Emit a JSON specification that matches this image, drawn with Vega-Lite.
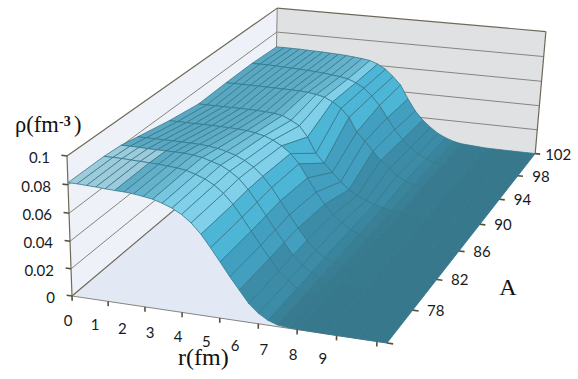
{
"$schema":"https://vega.github.io/schema/vega-lite/v6.json",
"width":578,"height":379,"padding":0,"autosize":{"type":"none"},
"view":{"stroke":null},
"config":{"axis":{"grid":false},"legend":{"disable":true}},
"datasets":{
"grid":[
{"A":102,"r":0,"rho":0.0675},{"A":102,"r":0.33,"rho":0.0675},{"A":102,"r":0.67,"rho":0.0675},{"A":102,"r":1,"rho":0.0674},{"A":102,"r":1.33,"rho":0.0672},{"A":102,"r":1.67,"rho":0.067},{"A":102,"r":2,"rho":0.0668},{"A":102,"r":2.33,"rho":0.0665},{"A":102,"r":2.67,"rho":0.0662},{"A":102,"r":3,"rho":0.0658},{"A":102,"r":3.33,"rho":0.0652},{"A":102,"r":3.67,"rho":0.0645},{"A":102,"r":4,"rho":0.0635},{"A":102,"r":4.33,"rho":0.0612},{"A":102,"r":4.67,"rho":0.0575},{"A":102,"r":5,"rho":0.052},{"A":102,"r":5.33,"rho":0.0455},{"A":102,"r":5.67,"rho":0.0345},{"A":102,"r":6,"rho":0.025},{"A":102,"r":6.33,"rho":0.018},{"A":102,"r":6.67,"rho":0.0125},{"A":102,"r":7,"rho":0.008},{"A":102,"r":7.33,"rho":0.005},{"A":102,"r":7.67,"rho":0.0027},{"A":102,"r":8,"rho":0.0014},{"A":102,"r":9,"rho":0.0001},{"A":102,"r":10,"rho":0},{"A":102,"r":11,"rho":0},
{"A":98,"r":0,"rho":0.069},{"A":98,"r":0.33,"rho":0.069},{"A":98,"r":0.67,"rho":0.069},{"A":98,"r":1,"rho":0.0688},{"A":98,"r":1.33,"rho":0.0685},{"A":98,"r":1.67,"rho":0.0683},{"A":98,"r":2,"rho":0.068},{"A":98,"r":2.33,"rho":0.0677},{"A":98,"r":2.67,"rho":0.0673},{"A":98,"r":3,"rho":0.0668},{"A":98,"r":3.33,"rho":0.066},{"A":98,"r":3.67,"rho":0.0652},{"A":98,"r":4,"rho":0.064},{"A":98,"r":4.33,"rho":0.0615},{"A":98,"r":4.67,"rho":0.0578},{"A":98,"r":5,"rho":0.052},{"A":98,"r":5.33,"rho":0.045},{"A":98,"r":5.67,"rho":0.0355},{"A":98,"r":6,"rho":0.0265},{"A":98,"r":6.33,"rho":0.019},{"A":98,"r":6.67,"rho":0.013},{"A":98,"r":7,"rho":0.0085},{"A":98,"r":7.33,"rho":0.0052},{"A":98,"r":7.67,"rho":0.003},{"A":98,"r":8,"rho":0.0016},{"A":98,"r":9,"rho":0.0002},{"A":98,"r":10,"rho":0},{"A":98,"r":11,"rho":0},
{"A":94,"r":0,"rho":0.069},{"A":94,"r":0.33,"rho":0.069},{"A":94,"r":0.67,"rho":0.069},{"A":94,"r":1,"rho":0.069},{"A":94,"r":1.33,"rho":0.069},{"A":94,"r":1.67,"rho":0.0689},{"A":94,"r":2,"rho":0.0688},{"A":94,"r":2.33,"rho":0.0687},{"A":94,"r":2.67,"rho":0.0686},{"A":94,"r":3,"rho":0.0685},{"A":94,"r":3.33,"rho":0.068},{"A":94,"r":3.67,"rho":0.067},{"A":94,"r":4,"rho":0.0655},{"A":94,"r":4.33,"rho":0.0625},{"A":94,"r":4.67,"rho":0.058},{"A":94,"r":5,"rho":0.0515},{"A":94,"r":5.33,"rho":0.0405},{"A":94,"r":5.67,"rho":0.034},{"A":94,"r":6,"rho":0.0265},{"A":94,"r":6.33,"rho":0.02},{"A":94,"r":6.67,"rho":0.014},{"A":94,"r":7,"rho":0.009},{"A":94,"r":7.33,"rho":0.0055},{"A":94,"r":7.67,"rho":0.0032},{"A":94,"r":8,"rho":0.0018},{"A":94,"r":9,"rho":0.0002},{"A":94,"r":10,"rho":0},{"A":94,"r":11,"rho":0},
{"A":90,"r":0,"rho":0.0685},{"A":90,"r":0.33,"rho":0.0685},{"A":90,"r":0.67,"rho":0.0685},{"A":90,"r":1,"rho":0.0685},{"A":90,"r":1.33,"rho":0.0685},{"A":90,"r":1.67,"rho":0.0685},{"A":90,"r":2,"rho":0.0684},{"A":90,"r":2.33,"rho":0.0683},{"A":90,"r":2.67,"rho":0.068},{"A":90,"r":3,"rho":0.0675},{"A":90,"r":3.33,"rho":0.0665},{"A":90,"r":3.67,"rho":0.0635},{"A":90,"r":4,"rho":0.06},{"A":90,"r":4.33,"rho":0.052},{"A":90,"r":4.67,"rho":0.04},{"A":90,"r":5,"rho":0.033},{"A":90,"r":5.33,"rho":0.0265},{"A":90,"r":5.67,"rho":0.02},{"A":90,"r":6,"rho":0.0145},{"A":90,"r":6.33,"rho":0.0105},{"A":90,"r":6.67,"rho":0.0075},{"A":90,"r":7,"rho":0.0052},{"A":90,"r":7.33,"rho":0.0033},{"A":90,"r":7.67,"rho":0.002},{"A":90,"r":8,"rho":0.0012},{"A":90,"r":9,"rho":0.0002},{"A":90,"r":10,"rho":0},{"A":90,"r":11,"rho":0},
{"A":86,"r":0,"rho":0.0725},{"A":86,"r":0.33,"rho":0.0725},{"A":86,"r":0.67,"rho":0.0725},{"A":86,"r":1,"rho":0.0725},{"A":86,"r":1.33,"rho":0.0725},{"A":86,"r":1.67,"rho":0.0725},{"A":86,"r":2,"rho":0.0724},{"A":86,"r":2.33,"rho":0.0722},{"A":86,"r":2.67,"rho":0.072},{"A":86,"r":3,"rho":0.0715},{"A":86,"r":3.33,"rho":0.0705},{"A":86,"r":3.67,"rho":0.069},{"A":86,"r":4,"rho":0.0665},{"A":86,"r":4.33,"rho":0.063},{"A":86,"r":4.67,"rho":0.058},{"A":86,"r":5,"rho":0.051},{"A":86,"r":5.33,"rho":0.041},{"A":86,"r":5.67,"rho":0.031},{"A":86,"r":6,"rho":0.0225},{"A":86,"r":6.33,"rho":0.0155},{"A":86,"r":6.67,"rho":0.01},{"A":86,"r":7,"rho":0.0055},{"A":86,"r":7.33,"rho":0.0027},{"A":86,"r":7.67,"rho":0.0012},{"A":86,"r":8,"rho":0.0005},{"A":86,"r":9,"rho":0.0001},{"A":86,"r":10,"rho":0},{"A":86,"r":11,"rho":0},
{"A":82,"r":0,"rho":0.0778},{"A":82,"r":0.33,"rho":0.0778},{"A":82,"r":0.67,"rho":0.0778},{"A":82,"r":1,"rho":0.0778},{"A":82,"r":1.33,"rho":0.0778},{"A":82,"r":1.67,"rho":0.0778},{"A":82,"r":2,"rho":0.0777},{"A":82,"r":2.33,"rho":0.0775},{"A":82,"r":2.67,"rho":0.077},{"A":82,"r":3,"rho":0.076},{"A":82,"r":3.33,"rho":0.0745},{"A":82,"r":3.67,"rho":0.0725},{"A":82,"r":4,"rho":0.0695},{"A":82,"r":4.33,"rho":0.0655},{"A":82,"r":4.67,"rho":0.0595},{"A":82,"r":5,"rho":0.052},{"A":82,"r":5.33,"rho":0.043},{"A":82,"r":5.67,"rho":0.0335},{"A":82,"r":6,"rho":0.0245},{"A":82,"r":6.33,"rho":0.016},{"A":82,"r":6.67,"rho":0.0095},{"A":82,"r":7,"rho":0.005},{"A":82,"r":7.33,"rho":0.0023},{"A":82,"r":7.67,"rho":0.001},{"A":82,"r":8,"rho":0.0004},{"A":82,"r":9,"rho":0},{"A":82,"r":10,"rho":0},{"A":82,"r":11,"rho":0},
{"A":80,"r":0,"rho":0.0805},{"A":80,"r":0.33,"rho":0.0805},{"A":80,"r":0.67,"rho":0.0805},{"A":80,"r":1,"rho":0.0803},{"A":80,"r":1.33,"rho":0.0802},{"A":80,"r":1.67,"rho":0.0802},{"A":80,"r":2,"rho":0.0802},{"A":80,"r":2.33,"rho":0.0801},{"A":80,"r":2.67,"rho":0.0795},{"A":80,"r":3,"rho":0.0785},{"A":80,"r":3.33,"rho":0.0765},{"A":80,"r":3.67,"rho":0.0745},{"A":80,"r":4,"rho":0.071},{"A":80,"r":4.33,"rho":0.0665},{"A":80,"r":4.67,"rho":0.0595},{"A":80,"r":5,"rho":0.051},{"A":80,"r":5.33,"rho":0.042},{"A":80,"r":5.67,"rho":0.0325},{"A":80,"r":6,"rho":0.024},{"A":80,"r":6.33,"rho":0.0155},{"A":80,"r":6.67,"rho":0.009},{"A":80,"r":7,"rho":0.0045},{"A":80,"r":7.33,"rho":0.002},{"A":80,"r":7.67,"rho":0.0008},{"A":80,"r":8,"rho":0.0003},{"A":80,"r":9,"rho":0},{"A":80,"r":10,"rho":0},{"A":80,"r":11,"rho":0},
{"A":78,"r":0,"rho":0.0815},{"A":78,"r":0.33,"rho":0.0815},{"A":78,"r":0.67,"rho":0.0815},{"A":78,"r":1,"rho":0.0812},{"A":78,"r":1.33,"rho":0.081},{"A":78,"r":1.67,"rho":0.0808},{"A":78,"r":2,"rho":0.0805},{"A":78,"r":2.33,"rho":0.08},{"A":78,"r":2.67,"rho":0.0795},{"A":78,"r":3,"rho":0.0785},{"A":78,"r":3.33,"rho":0.0765},{"A":78,"r":3.67,"rho":0.074},{"A":78,"r":4,"rho":0.0705},{"A":78,"r":4.33,"rho":0.0655},{"A":78,"r":4.67,"rho":0.0585},{"A":78,"r":5,"rho":0.05},{"A":78,"r":5.33,"rho":0.041},{"A":78,"r":5.67,"rho":0.0315},{"A":78,"r":6,"rho":0.023},{"A":78,"r":6.33,"rho":0.0145},{"A":78,"r":6.67,"rho":0.0085},{"A":78,"r":7,"rho":0.004},{"A":78,"r":7.33,"rho":0.0016},{"A":78,"r":7.67,"rho":0.0007},{"A":78,"r":8,"rho":0.0003},{"A":78,"r":9,"rho":0},{"A":78,"r":10,"rho":0},{"A":78,"r":11,"rho":0},
{"A":74,"r":0,"rho":0.0815},{"A":74,"r":0.33,"rho":0.0815},{"A":74,"r":0.67,"rho":0.0812},{"A":74,"r":1,"rho":0.081},{"A":74,"r":1.33,"rho":0.0805},{"A":74,"r":1.67,"rho":0.0802},{"A":74,"r":2,"rho":0.08},{"A":74,"r":2.33,"rho":0.0795},{"A":74,"r":2.67,"rho":0.0785},{"A":74,"r":3,"rho":0.0775},{"A":74,"r":3.33,"rho":0.0755},{"A":74,"r":3.67,"rho":0.073},{"A":74,"r":4,"rho":0.0695},{"A":74,"r":4.33,"rho":0.0645},{"A":74,"r":4.67,"rho":0.0575},{"A":74,"r":5,"rho":0.049},{"A":74,"r":5.33,"rho":0.04},{"A":74,"r":5.67,"rho":0.0305},{"A":74,"r":6,"rho":0.022},{"A":74,"r":6.33,"rho":0.0135},{"A":74,"r":6.67,"rho":0.0075},{"A":74,"r":7,"rho":0.0035},{"A":74,"r":7.33,"rho":0.0012},{"A":74,"r":7.67,"rho":0.0005},{"A":74,"r":8,"rho":0.0002},{"A":74,"r":9,"rho":0},{"A":74,"r":10,"rho":0},{"A":74,"r":11,"rho":0}
],
"planes":[
{"plane":"left","k":0,"r":0,"A":74,"rho":0},{"plane":"left","k":1,"r":0,"A":102,"rho":0},{"plane":"left","k":2,"r":0,"A":102,"rho":0.1},{"plane":"left","k":3,"r":0,"A":74,"rho":0.1},
{"plane":"back","k":0,"r":0,"A":102,"rho":0},{"plane":"back","k":1,"r":11,"A":102,"rho":0},{"plane":"back","k":2,"r":11,"A":102,"rho":0.1},{"plane":"back","k":3,"r":0,"A":102,"rho":0.1},
{"plane":"floor","k":0,"r":0,"A":74,"rho":0},{"plane":"floor","k":1,"r":11,"A":74,"rho":0},{"plane":"floor","k":2,"r":11,"A":102,"rho":0},{"plane":"floor","k":3,"r":0,"A":102,"rho":0}
],
"gridlines":[
{"r":0,"A":74,"rho":0.02,"r2":0,"A2":102,"rho2":0.02},{"r":0,"A":74,"rho":0.04,"r2":0,"A2":102,"rho2":0.04},{"r":0,"A":74,"rho":0.06,"r2":0,"A2":102,"rho2":0.06},{"r":0,"A":74,"rho":0.08,"r2":0,"A2":102,"rho2":0.08},
{"r":0,"A":102,"rho":0.02,"r2":11,"A2":102,"rho2":0.02},{"r":0,"A":102,"rho":0.04,"r2":11,"A2":102,"rho2":0.04},{"r":0,"A":102,"rho":0.06,"r2":11,"A2":102,"rho2":0.06},{"r":0,"A":102,"rho":0.08,"r2":11,"A2":102,"rho2":0.08},
{"r":0,"A":74,"rho":0,"r2":11,"A2":74,"rho2":0},{"r":0,"A":102,"rho":0,"r2":0,"A2":102,"rho2":0.1}
],
"edges":[
{"r":0,"A":74,"rho":0.1,"r2":0,"A2":102,"rho2":0.1},{"r":0,"A":102,"rho":0.1,"r2":11,"A2":102,"rho2":0.1},{"r":0,"A":74,"rho":0,"r2":0,"A2":74,"rho2":0.1},{"r":11,"A":102,"rho":0,"r2":11,"A2":102,"rho2":0.1},{"r":0,"A":74,"rho":0,"r2":0,"A2":102,"rho2":0}
],
"ticks":[
{"r":0,"A":74,"rho":0,"r2":-0.2,"A2":74,"rho2":0},{"r":0,"A":74,"rho":0.02,"r2":-0.2,"A2":74,"rho2":0.02},{"r":0,"A":74,"rho":0.04,"r2":-0.2,"A2":74,"rho2":0.04},{"r":0,"A":74,"rho":0.06,"r2":-0.2,"A2":74,"rho2":0.06},{"r":0,"A":74,"rho":0.08,"r2":-0.2,"A2":74,"rho2":0.08},{"r":0,"A":74,"rho":0.1,"r2":-0.2,"A2":74,"rho2":0.1},
{"r":0,"A":74,"rho":0,"r2":0,"A2":74,"rho2":-0.0035},{"r":1.33,"A":74,"rho":0,"r2":1.33,"A2":74,"rho2":-0.0035},{"r":2.67,"A":74,"rho":0,"r2":2.67,"A2":74,"rho2":-0.0035},{"r":4,"A":74,"rho":0,"r2":4,"A2":74,"rho2":-0.0035},{"r":5.33,"A":74,"rho":0,"r2":5.33,"A2":74,"rho2":-0.0035},{"r":6.67,"A":74,"rho":0,"r2":6.67,"A2":74,"rho2":-0.0035},{"r":8,"A":74,"rho":0,"r2":8,"A2":74,"rho2":-0.0035},{"r":9.33,"A":74,"rho":0,"r2":9.33,"A2":74,"rho2":-0.0035},{"r":10.67,"A":74,"rho":0,"r2":10.67,"A2":74,"rho2":-0.0035},
{"r":11,"A":74,"rho":0,"r2":11.2,"A2":74,"rho2":0},{"r":11,"A":78,"rho":0,"r2":11.2,"A2":78,"rho2":0},{"r":11,"A":82,"rho":0,"r2":11.2,"A2":82,"rho2":0},{"r":11,"A":86,"rho":0,"r2":11.2,"A2":86,"rho2":0},{"r":11,"A":90,"rho":0,"r2":11.2,"A2":90,"rho2":0},{"r":11,"A":94,"rho":0,"r2":11.2,"A2":94,"rho2":0},{"r":11,"A":98,"rho":0,"r2":11.2,"A2":98,"rho2":0},{"r":11,"A":102,"rho":0,"r2":11.2,"A2":102,"rho2":0}
],
"rhoLabels":[{"r":0,"A":74,"rho":0,"t":"0"},{"r":0,"A":74,"rho":0.02,"t":"0.02"},{"r":0,"A":74,"rho":0.04,"t":"0.04"},{"r":0,"A":74,"rho":0.06,"t":"0.06"},{"r":0,"A":74,"rho":0.08,"t":"0.08"},{"r":0,"A":74,"rho":0.1,"t":"0.1"}],
"rLabels":[{"r":0,"A":74,"rho":0,"t":"0"},{"r":1,"A":74,"rho":0,"t":"1"},{"r":2,"A":74,"rho":0,"t":"2"},{"r":3,"A":74,"rho":0,"t":"3"},{"r":4,"A":74,"rho":0,"t":"4"},{"r":5,"A":74,"rho":0,"t":"5"},{"r":6,"A":74,"rho":0,"t":"6"},{"r":7,"A":74,"rho":0,"t":"7"},{"r":8,"A":74,"rho":0,"t":"8"},{"r":9,"A":74,"rho":0,"t":"9"}],
"aLabels":[{"r":11,"A":78,"rho":0,"t":"78"},{"r":11,"A":82,"rho":0,"t":"82"},{"r":11,"A":86,"rho":0,"t":"86"},{"r":11,"A":90,"rho":0,"t":"90"},{"r":11,"A":94,"rho":0,"t":"94"},{"r":11,"A":98,"rho":0,"t":"98"},{"r":11,"A":102,"rho":0,"t":"102"}],
"rhoAnchor":[{"r":0,"A":74,"rho":0.1}],
"rAnchor":[{"r":5,"A":74,"rho":0}],
"aAnchor":[{"r":11,"A":86,"rho":0}]
},
"layer":[
{"data":{"name":"planes"},
"transform":[
{"calculate":"1-0.005455*datum.r+0.00875*(datum.A-74)-0.37*datum.rho","as":"D"},
{"calculate":"(72+26.527*datum.r+9.657*(datum.A-74)-75*datum.rho)/datum.D","as":"px"},
{"calculate":"(296+2.4*datum.r-5.014*(datum.A-74)-1458*datum.rho)/datum.D","as":"py"}],
"mark":{"type":"line","interpolate":"linear-closed","strokeWidth":0},
"encoding":{
"x":{"field":"px","type":"quantitative","scale":{"domain":[0,578],"range":[0,578],"nice":false,"zero":false},"axis":null},
"y":{"field":"py","type":"quantitative","scale":{"domain":[0,379],"range":[0,379],"nice":false,"zero":false},"axis":null},
"order":{"field":"k"},
"fill":{"field":"plane","type":"nominal","scale":{"domain":["left","back","floor"],"range":["#eef1f7","#e0e1e3","#e3e9f4"]},"legend":null}}},
{"data":{"name":"gridlines"},
"transform":[
{"calculate":"(72+26.527*datum.r+9.657*(datum.A-74)-75*datum.rho)/(1-0.005455*datum.r+0.00875*(datum.A-74)-0.37*datum.rho)","as":"px"},
{"calculate":"(296+2.4*datum.r-5.014*(datum.A-74)-1458*datum.rho)/(1-0.005455*datum.r+0.00875*(datum.A-74)-0.37*datum.rho)","as":"py"},
{"calculate":"(72+26.527*datum.r2+9.657*(datum.A2-74)-75*datum.rho2)/(1-0.005455*datum.r2+0.00875*(datum.A2-74)-0.37*datum.rho2)","as":"px2"},
{"calculate":"(296+2.4*datum.r2-5.014*(datum.A2-74)-1458*datum.rho2)/(1-0.005455*datum.r2+0.00875*(datum.A2-74)-0.37*datum.rho2)","as":"py2"}],
"mark":{"type":"rule","stroke":"#85857f","strokeWidth":1},
"encoding":{"x":{"field":"px","type":"quantitative"},"y":{"field":"py","type":"quantitative"},"x2":{"field":"px2"},"y2":{"field":"py2"}}},
{"data":{"name":"edges"},
"transform":[
{"calculate":"(72+26.527*datum.r+9.657*(datum.A-74)-75*datum.rho)/(1-0.005455*datum.r+0.00875*(datum.A-74)-0.37*datum.rho)","as":"px"},
{"calculate":"(296+2.4*datum.r-5.014*(datum.A-74)-1458*datum.rho)/(1-0.005455*datum.r+0.00875*(datum.A-74)-0.37*datum.rho)","as":"py"},
{"calculate":"(72+26.527*datum.r2+9.657*(datum.A2-74)-75*datum.rho2)/(1-0.005455*datum.r2+0.00875*(datum.A2-74)-0.37*datum.rho2)","as":"px2"},
{"calculate":"(296+2.4*datum.r2-5.014*(datum.A2-74)-1458*datum.rho2)/(1-0.005455*datum.r2+0.00875*(datum.A2-74)-0.37*datum.rho2)","as":"py2"}],
"mark":{"type":"rule","stroke":"#6e6a58","strokeWidth":1.2},
"encoding":{"x":{"field":"px","type":"quantitative"},"y":{"field":"py","type":"quantitative"},"x2":{"field":"px2"},"y2":{"field":"py2"}}},
{"data":{"name":"grid"},
"transform":[
{"window":[{"op":"lead","field":"rho","as":"rho_r"},{"op":"lead","field":"r","as":"r2"}],"groupby":["A"],"sort":[{"field":"r","order":"ascending"}]},
{"window":[{"op":"lead","field":"rho","as":"rho_a"},{"op":"lead","field":"rho_r","as":"rho_ra"},{"op":"lead","field":"A","as":"A2"}],"groupby":["r"],"sort":[{"field":"A","order":"ascending"}]},
{"filter":"isValid(datum.r2) && isValid(datum.A2)"},
{"calculate":"(datum.rho+datum.rho_r+datum.rho_a+datum.rho_ra)/4","as":"b"},
{"calculate":"(datum.rho+datum.rho_a-datum.rho_r-datum.rho_ra)/2/(datum.r2-datum.r)","as":"s"},
{"calculate":"datum.b>=0.0805?6:datum.b>=0.06?4+min(1,max(0,datum.s/0.008)):datum.b>=0.04?3:datum.b>=0.02?2:min(1,datum.b/0.006)","as":"tone"},
{"calculate":"datum.A+'_'+datum.r","as":"cell"},
{"calculate":"[datum.r,datum.r2,datum.r2,datum.r]","as":"cr"},
{"calculate":"[datum.A,datum.A,datum.A2,datum.A2]","as":"cA"},
{"calculate":"[datum.rho,datum.rho_r,datum.rho_ra,datum.rho_a]","as":"cz"},
{"calculate":"[0,1,2,3]","as":"ck"},
{"flatten":["cr","cA","cz","ck"]},
{"calculate":"1-0.005455*datum.cr+0.00875*(datum.cA-74)-0.37*datum.cz","as":"D"},
{"calculate":"(72+26.527*datum.cr+9.657*(datum.cA-74)-75*datum.cz)/datum.D","as":"px"},
{"calculate":"(296+2.4*datum.cr-5.014*(datum.cA-74)-1458*datum.cz)/datum.D","as":"py"}],
"mark":{"type":"line","interpolate":"linear-closed","stroke":"#35788c","strokeWidth":0.8},
"encoding":{
"x":{"field":"px","type":"quantitative"},
"y":{"field":"py","type":"quantitative"},
"detail":{"field":"cell","type":"nominal"},
"order":{"field":"ck"},
"fill":{"field":"tone","type":"quantitative","scale":{"domain":[0,1,2,3,4,5,6],"range":["#37788c","#3c8ca8","#429fc0","#4db5d6","#5aa7c1","#80d0ea","#9dcbdb"]},"legend":null}}},
{"data":{"name":"ticks"},
"transform":[
{"calculate":"(72+26.527*datum.r+9.657*(datum.A-74)-75*datum.rho)/(1-0.005455*datum.r+0.00875*(datum.A-74)-0.37*datum.rho)","as":"px"},
{"calculate":"(296+2.4*datum.r-5.014*(datum.A-74)-1458*datum.rho)/(1-0.005455*datum.r+0.00875*(datum.A-74)-0.37*datum.rho)","as":"py"},
{"calculate":"(72+26.527*datum.r2+9.657*(datum.A2-74)-75*datum.rho2)/(1-0.005455*datum.r2+0.00875*(datum.A2-74)-0.37*datum.rho2)","as":"px2"},
{"calculate":"(296+2.4*datum.r2-5.014*(datum.A2-74)-1458*datum.rho2)/(1-0.005455*datum.r2+0.00875*(datum.A2-74)-0.37*datum.rho2)","as":"py2"}],
"mark":{"type":"rule","stroke":"#574f38","strokeWidth":1.6},
"encoding":{"x":{"field":"px","type":"quantitative"},"y":{"field":"py","type":"quantitative"},"x2":{"field":"px2"},"y2":{"field":"py2"}}},
{"data":{"name":"rhoLabels"},
"transform":[
{"calculate":"1-0.005455*datum.r+0.00875*(datum.A-74)-0.37*datum.rho","as":"D"},
{"calculate":"(72+26.527*datum.r+9.657*(datum.A-74)-75*datum.rho)/datum.D","as":"px"},
{"calculate":"(296+2.4*datum.r-5.014*(datum.A-74)-1458*datum.rho)/datum.D","as":"py"}],
"mark":{"type":"text","font":"Lato","fontSize":15,"align":"right","baseline":"middle","dx":-17,"dy":2,"color":"#1a1a1a"},
"encoding":{"x":{"field":"px","type":"quantitative"},"y":{"field":"py","type":"quantitative"},"text":{"field":"t"}}},
{"data":{"name":"rLabels"},
"transform":[
{"calculate":"1-0.005455*datum.r+0.00875*(datum.A-74)-0.37*datum.rho","as":"D"},
{"calculate":"(72+26.527*datum.r+9.657*(datum.A-74)-75*datum.rho)/datum.D","as":"px"},
{"calculate":"(296+2.4*datum.r-5.014*(datum.A-74)-1458*datum.rho)/datum.D","as":"py"}],
"mark":{"type":"text","font":"Lato","fontSize":15,"align":"center","baseline":"middle","dx":-4,"dy":25,"color":"#1a1a1a"},
"encoding":{"x":{"field":"px","type":"quantitative"},"y":{"field":"py","type":"quantitative"},"text":{"field":"t"}}},
{"data":{"name":"aLabels"},
"transform":[
{"calculate":"1-0.005455*datum.r+0.00875*(datum.A-74)-0.37*datum.rho","as":"D"},
{"calculate":"(72+26.527*datum.r+9.657*(datum.A-74)-75*datum.rho)/datum.D","as":"px"},
{"calculate":"(296+2.4*datum.r-5.014*(datum.A-74)-1458*datum.rho)/datum.D","as":"py"}],
"mark":{"type":"text","font":"Lato","fontSize":15,"align":"center","baseline":"middle","dx":23,"dy":1,"color":"#1a1a1a"},
"encoding":{"x":{"field":"px","type":"quantitative"},"y":{"field":"py","type":"quantitative"},"text":{"field":"t"}}},
{"data":{"name":"rhoAnchor"},
"transform":[
{"calculate":"1-0.005455*datum.r+0.00875*(datum.A-74)-0.37*datum.rho","as":"D"},
{"calculate":"(72+26.527*datum.r+9.657*(datum.A-74)-75*datum.rho)/datum.D","as":"px"},
{"calculate":"(296+2.4*datum.r-5.014*(datum.A-74)-1458*datum.rho)/datum.D","as":"py"}],
"layer":[
{"mark":{"type":"text","text":"ρ(fm","font":"Liberation Serif","fontSize":22.5,"align":"left","baseline":"alphabetic","dx":-52,"dy":-24,"color":"#111111"},
"encoding":{"x":{"field":"px","type":"quantitative"},"y":{"field":"py","type":"quantitative"}}},
{"mark":{"type":"text","text":"-3","font":"Liberation Serif","fontSize":14,"fontWeight":"bold","align":"left","baseline":"alphabetic","dx":-8,"dy":-30,"color":"#111111"},
"encoding":{"x":{"field":"px","type":"quantitative"},"y":{"field":"py","type":"quantitative"}}},
{"mark":{"type":"text","text":")","font":"Liberation Serif","fontSize":22.5,"align":"left","baseline":"alphabetic","dx":7,"dy":-24,"color":"#111111"},
"encoding":{"x":{"field":"px","type":"quantitative"},"y":{"field":"py","type":"quantitative"}}}
]},
{"data":{"name":"rAnchor"},
"transform":[
{"calculate":"1-0.005455*datum.r+0.00875*(datum.A-74)-0.37*datum.rho","as":"D"},
{"calculate":"(72+26.527*datum.r+9.657*(datum.A-74)-75*datum.rho)/datum.D","as":"px"},
{"calculate":"(296+2.4*datum.r-5.014*(datum.A-74)-1458*datum.rho)/datum.D","as":"py"}],
"mark":{"type":"text","text":"r(fm)","font":"Liberation Serif","fontSize":24,"align":"center","baseline":"alphabetic","dx":-7,"dy":48,"color":"#111111"},
"encoding":{"x":{"field":"px","type":"quantitative"},"y":{"field":"py","type":"quantitative"}}},
{"data":{"name":"aAnchor"},
"transform":[
{"calculate":"1-0.005455*datum.r+0.00875*(datum.A-74)-0.37*datum.rho","as":"D"},
{"calculate":"(72+26.527*datum.r+9.657*(datum.A-74)-75*datum.rho)/datum.D","as":"px"},
{"calculate":"(296+2.4*datum.r-5.014*(datum.A-74)-1458*datum.rho)/datum.D","as":"py"}],
"mark":{"type":"text","text":"A","font":"Liberation Serif","fontSize":24,"align":"center","baseline":"alphabetic","dx":49,"dy":44,"color":"#111111"},
"encoding":{"x":{"field":"px","type":"quantitative"},"y":{"field":"py","type":"quantitative"}}}
]
}
